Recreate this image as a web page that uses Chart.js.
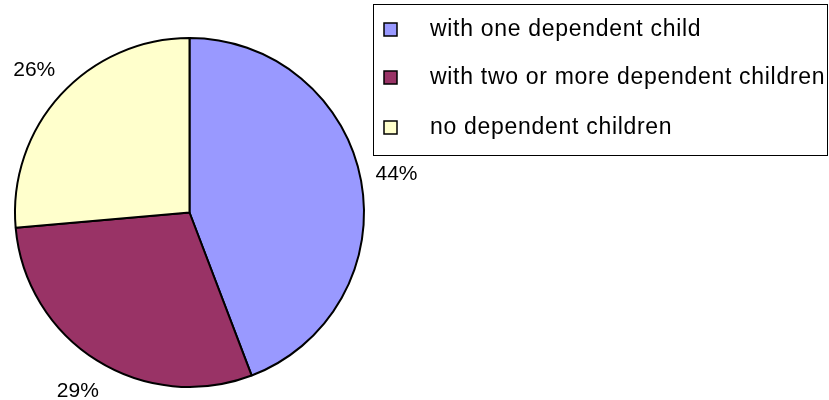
<!DOCTYPE html>
<html>
<head>
<meta charset="utf-8">
<script src="https://cdn.jsdelivr.net/npm/chart.js@4.4.0/dist/chart.umd.min.js"></script>
<style>
  html, body { margin: 0; padding: 0; background: #fff; }
  #wrap { width: 829px; height: 400px; }
</style>
</head>
<body>
<div id="wrap"><canvas id="pie" width="829" height="400"></canvas></div>
<script>
// values (share of households, %)
const categories = ['with one dependent child', 'with two or more dependent children', 'no dependent children'];
const shares = [44.2, 29.4, 26.4];
const sliceColors = ['#9999FF', '#993366', '#FFFFCC'];

// percent labels outside each slice
const pctLabels = {
    id: 'pctLabels',
    afterDatasetsDraw(chart) {
        const ctx = chart.ctx;
        const total = shares.reduce((a, b) => a + b, 0);
        ctx.save();
        ctx.font = '21px "Liberation Sans", Arial, sans-serif';
        ctx.fillStyle = '#000';
        ctx.textAlign = 'center';
        ctx.textBaseline = 'middle';
        chart.getDatasetMeta(0).data.forEach((arc, i) => {
            const mid = (arc.startAngle + arc.endAngle) / 2;
            const r = arc.outerRadius + 36;
            const x = arc.x + Math.cos(mid) * r;
            const y = arc.y + Math.sin(mid) * r;
            ctx.fillText(Math.round(shares[i] / total * 100) + '%', x, y);
        });
        ctx.restore();
    }
};

// boxed legend on the right, drawn by hand
const boxLegend = {
    id: 'boxLegend',
    afterDraw(chart) {
        const ctx = chart.ctx;
        ctx.save();
        ctx.strokeStyle = '#000';
        ctx.lineWidth = 1;
        ctx.strokeRect(373.5, 4.5, 454, 151);
        ctx.font = '23px "Liberation Sans", Arial, sans-serif';
        if ('letterSpacing' in ctx) ctx.letterSpacing = '0.7px';
        ctx.textBaseline = 'middle';
        ctx.textAlign = 'left';
        const rows = [29, 77, 127];
        categories.forEach((label, i) => {
            const y = rows[i];
            ctx.fillStyle = sliceColors[i];
            ctx.fillRect(384, y - 6, 13, 13);
            ctx.lineWidth = 1.5;
            ctx.strokeStyle = '#000';
            ctx.strokeRect(384, y - 6, 13, 13);
            ctx.fillStyle = '#000';
            ctx.fillText(label, 430, y + 1);
        });
        ctx.restore();
    }
};

new Chart(document.getElementById('pie'), {
    type: 'pie',
    data: {
        labels: categories,
        datasets: [{
            data: shares,
            backgroundColor: sliceColors,
            borderColor: '#000',
            borderWidth: 2,
            hoverOffset: 0
        }]
    },
    options: {
        responsive: false,
        animation: false,
        layout: { padding: { left: 14, top: 37, right: 464, bottom: 12 } },
        plugins: {
            legend: { display: false },
            tooltip: { enabled: false }
        }
    },
    plugins: [pctLabels, boxLegend]
});
</script>
</body>
</html>
